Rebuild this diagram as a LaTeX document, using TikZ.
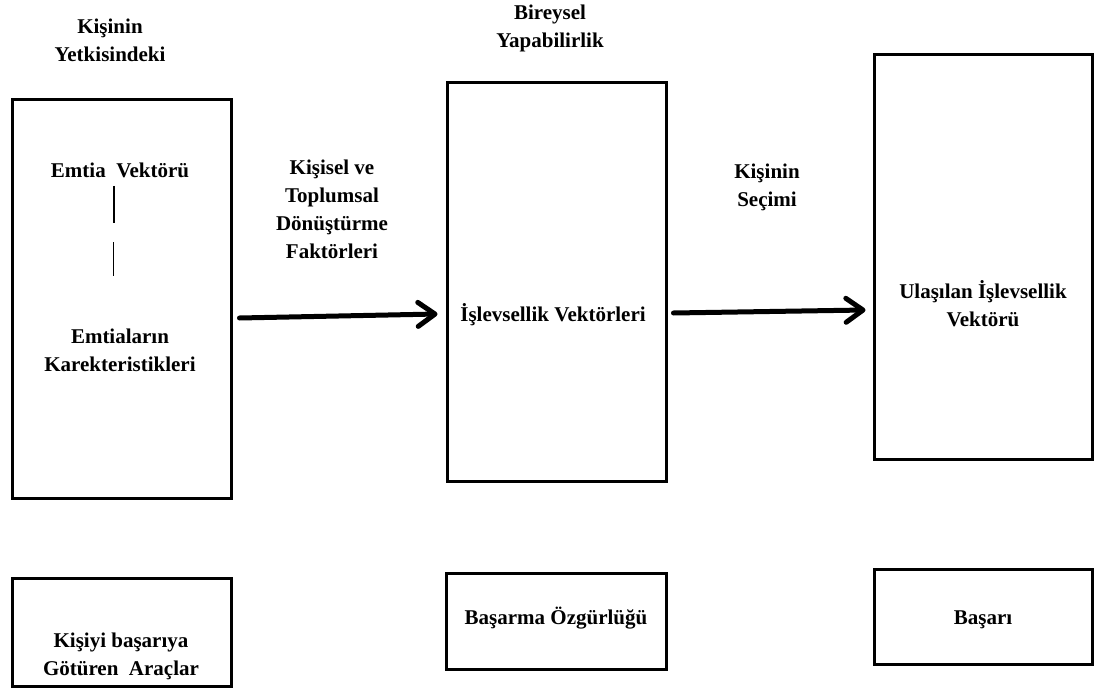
\documentclass[tikz,border=0pt]{standalone}
\usepackage{fontspec}
\setmainfont{Liberation Serif}
\usetikzlibrary{arrows.meta,shadows}

\begin{document}
\begin{tikzpicture}[x=1pt,y=-1pt,
  box/.style={draw=black,line width=3pt,fill=white,rectangle,inner sep=0pt,
    drop shadow={shadow xshift=1.2pt,shadow yshift=-1.5pt,opacity=.35,fill=gray}},
  lbl/.style={align=center,inner sep=0pt,font=\fontsize{21}{28}\selectfont\bfseries},
  flow/.style={line width=5pt,line cap=round,
    -{Straight Barb[length=17pt,width=24pt,round]}}]
\useasboundingbox (0,0) rectangle (1117,690);

% upper column boxes
\node[box,minimum width=219pt,minimum height=398pt] (b1) at (121.5,299) {};
\node[box,minimum width=219pt,minimum height=398pt] (b2) at (556.5,282) {};
\node[box,minimum width=218pt,minimum height=404pt] (b3) at (983,257) {};

% lower boxes
\node[box,minimum width=219pt,minimum height=108pt] (c1) at (121.5,632) {};
\node[box,minimum width=220pt,minimum height=96pt] (c2) at (556,621) {};
\node[box,minimum width=218pt,minimum height=95pt] (c3) at (983,616.5) {};

% headings
\node[lbl] (h1) at (110,40) {Kişinin\\Yetkisindeki};
\node[lbl] (h2) at (550,28) {Bireysel\\Yapabilirlik};

% texts inside the first box
\node[lbl] (t1) at (120,170) {Emtia~ Vektörü};
\node[lbl] (t2) at (120,350) {Emtiaların\\Karekteristikleri};
\draw[line width=1.3pt] (114,186) -- (114,223);
\draw[line width=1.3pt] (113.5,242) -- (113.5,276);

% transition labels
\node[lbl] (f1) at (332,209) {Kişisel ve\\Toplumsal\\Dönüştürme\\Faktörleri};
\node[lbl] (f2) at (767,187) {Kişinin\\Seçimi};

% box texts
\node[lbl] (t3) at (553,315) {İşlevsellik Vektörleri};
\node[lbl] (t4) at (983,304) {Ulaşılan İşlevsellik\\Vektörü};
\node[lbl] (t5) at (121,656) {Kişiyi başarıya\\Götüren~ Araçlar};
\node[lbl] (t6) at (556,618) {Başarma Özgürlüğü};
\node[lbl] (t7) at (983,620) {Başarı};

% arrows
\draw[flow] ([xshift=7pt,yshift=-19pt]b1.east) -- ([xshift=-8pt,yshift=-32pt]b2.west);
\draw[flow] ([xshift=6pt,yshift=-31pt]b2.east) -- ([xshift=-7pt,yshift=-53pt]b3.west);
\end{tikzpicture}
\end{document}
